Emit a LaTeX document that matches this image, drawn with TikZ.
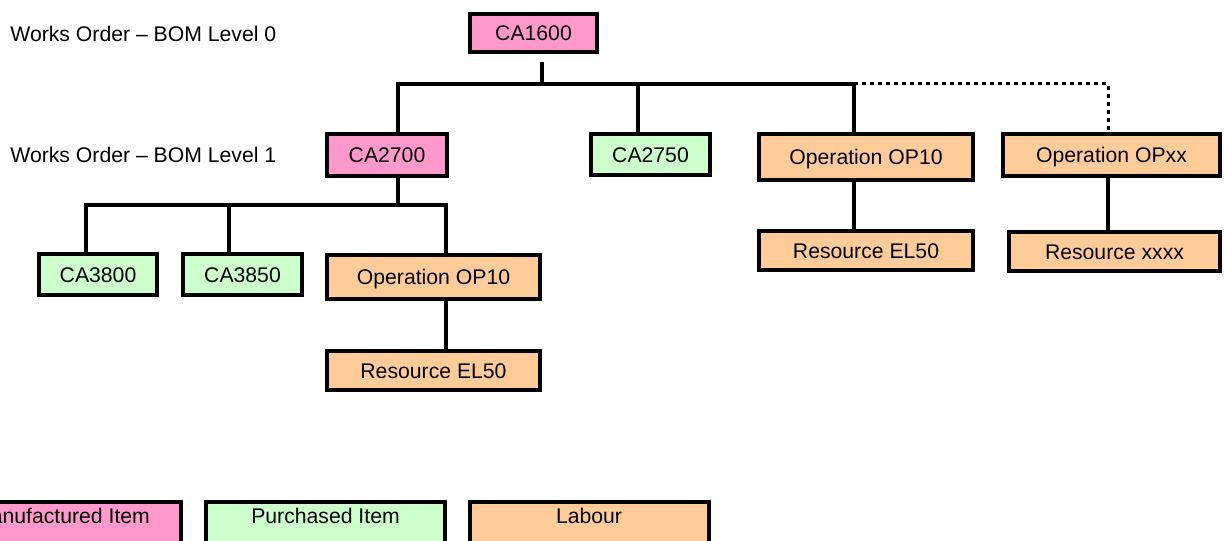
\documentclass[tikz,border=0pt]{standalone}
\usepackage{fontspec}
\setmainfont{Liberation Sans}
\definecolor{made}{HTML}{FF99CC}
\definecolor{bought}{HTML}{CCFFCC}
\definecolor{labour}{HTML}{FFCC99}
\tikzset{
  item/.style={draw, line width=2pt, inner sep=0pt, text height=7.6pt, text depth=0pt},
  legend/.style={item, inner xsep=0pt, inner ysep=3pt, text depth=7.4pt, minimum width=119.5pt},
  link/.style={line width=1.7pt},
  dots/.style={line width=1.5pt, dash pattern=on 2pt off 2pt},
}
\begin{document}
\begin{tikzpicture}[x=0.5pt, y=-0.5pt, font=\fontsize{10.6}{12}\selectfont]
\useasboundingbox (0,0) rectangle (1224,540);

\node[anchor=base west, inner sep=0pt] (lvl0) at (10,42) {Works Order – BOM Level 0};
\node[anchor=base west, inner sep=0pt] (lvl1) at (10,162) {Works Order – BOM Level 1};

\node[item, fill=made, minimum width=63.5pt, minimum height=19pt] (ca1600) at (533.5,33) {CA1600};
\node[item, fill=made, minimum width=60pt, minimum height=21pt] (ca2700) at (387,155) {CA2700};
\node[item, fill=bought, minimum width=59.5pt, minimum height=20.5pt] (ca2750) at (650.5,154.5) {CA2750};
\node[item, fill=labour, minimum width=107pt, minimum height=23pt] (op10r) at (866,157) {Operation OP10};
\node[item, fill=labour, minimum width=108.5pt, minimum height=21pt] (opxx) at (1111.5,155) {Operation OPxx};
\node[item, fill=labour, minimum width=107pt, minimum height=19.5pt] (resr) at (866,250.5) {Resource EL50};
\node[item, fill=labour, minimum width=105.5pt, minimum height=19.5pt] (resxx) at (1114.5,251.5) {Resource xxxx};
\node[item, fill=bought, minimum width=59pt, minimum height=20.5pt] (ca3800) at (98,274.5) {CA3800};
\node[item, fill=bought, minimum width=59.5pt, minimum height=20.5pt] (ca3850) at (242.5,274.5) {CA3850};
\node[item, fill=labour, minimum width=106.5pt, minimum height=22pt] (op10l) at (433.5,277) {Operation OP10};
\node[item, fill=labour, minimum width=106.5pt, minimum height=19.5pt] (resl) at (433.5,370.5) {Resource EL50};

\node[legend, fill=made] (keymade) at (61.5,523) {Manufactured Item};
\node[legend, fill=bought] (keybought) at (325.5,523) {Purchased Item};
\node[legend, fill=labour] (keylabour) at (589,523) {Labour};

\coordinate (d0) at (542,84);
\coordinate (d1) at (398,84);
\coordinate (d2) at (638,84);
\coordinate (d3) at (854,84);
\coordinate (d4) at (1108,84);
\coordinate (e0) at (398,205);
\coordinate (e1) at (86,205);
\coordinate (e2) at (229,205);
\coordinate (e3) at (446,205);

\path[draw,link] ([yshift=-4pt]ca1600.south -| d0) -- (d0);
\path[draw,link] (ca2700.north -| d1) -- (d1) -- (d3) -- (op10r.north -| d3);
\path[draw,link] (d2) -- (ca2750.north -| d2);
\path[draw,dots] (d3) -- (d4) -- (opxx.north -| d4);
\path[draw,link] (op10r.south -| d3) -- (resr.north -| d3);
\path[draw,link] (opxx.south -| d4) -- (resxx.north -| d4);
\path[draw,link] (ca2700.south -| e0) -- (e0);
\path[draw,link] (ca3800.north -| e1) -- (e1) -- (e3) -- (op10l.north -| e3);
\path[draw,link] (e2) -- (ca3850.north -| e2);
\path[draw,link] (op10l.south -| e3) -- (resl.north -| e3);
\end{tikzpicture}
\end{document}
